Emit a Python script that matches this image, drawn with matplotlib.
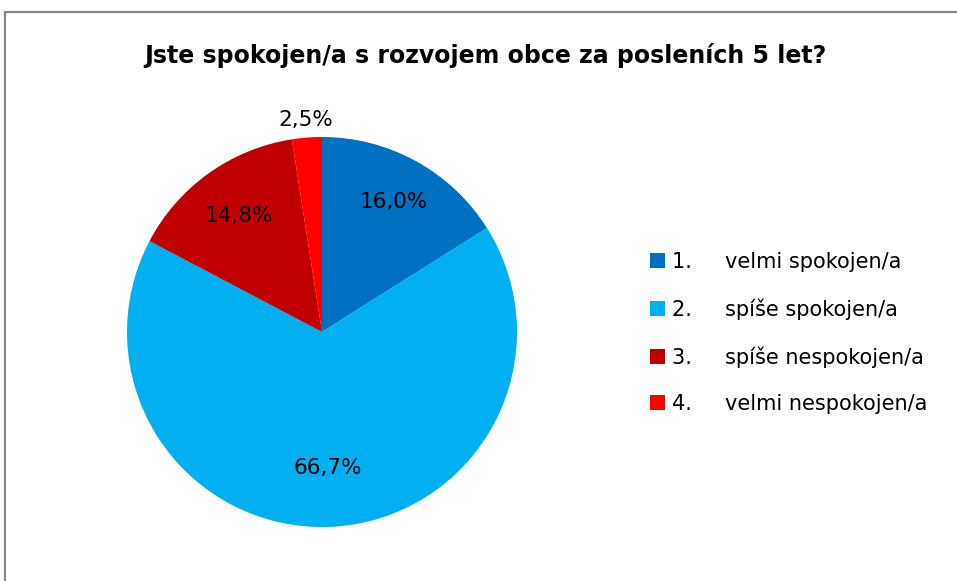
import numpy as np
import matplotlib.pyplot as plt
from matplotlib.patches import Rectangle, Patch

plt.rcParams['font.family'] = ['DejaVu Sans']

title = "Jste spokojen/a s rozvojem obce za posleních 5 let?"
labels = ["velmi spokojen/a", "spíše spokojen/a", "spíše nespokojen/a", "velmi nespokojen/a"]
counts = [13, 54, 12, 2]
colors = ["#0070C0", "#00B0F0", "#C00000", "#FF0000"]

W, H = 957, 581
fig = plt.figure(figsize=(W / 100, H / 100), dpi=100)

# chart frame (only left and top edges are visible in the crop)
fig.patches.append(Rectangle((5 / W, -0.1), 1.2, 1 - 12 / H + 0.1, transform=fig.transFigure,
                             fill=False, edgecolor="#868686", linewidth=1.6))

cx, cy, r = 322, 581 - 332, 195
ax = fig.add_axes([(cx - r) / W, (cy - r) / H, 2 * r / W, 2 * r / H])
wedges, _ = ax.pie(counts, colors=colors, startangle=90, counterclock=False, radius=1)
ax.set_xlim(-1, 1)
ax.set_ylim(-1, 1)
ax.set_aspect("equal")
ax.axis("off")

pct = np.array(counts) / sum(counts) * 100
dist = [0.76, 0.70, 0.73, 1.09]
for w, p, d in zip(wedges, pct, dist):
    mid = np.deg2rad((w.theta1 + w.theta2) / 2)
    ax.text(d * np.cos(mid), d * np.sin(mid), f"{p:.1f}%".replace(".", ","),
            ha="center", va="center", fontsize=15.5, clip_on=False)

fig.text(485 / W, 1 - 55 / H, title, ha="center", va="center", fontsize=17, fontweight="bold")

handles = [Patch(facecolor=c) for c in colors]
leg_labels = [f"{i + 1}.     {t}" for i, t in enumerate(labels)]
fig.legend(handles, leg_labels, loc="center left", bbox_to_anchor=(650 / W, 1 - 333 / H),
           frameon=False, fontsize=15, handlelength=0.72, handleheight=0.72,
           handletextpad=0.34, labelspacing=1.27, borderpad=0, borderaxespad=0)

fig.savefig("out.png", dpi=100)
